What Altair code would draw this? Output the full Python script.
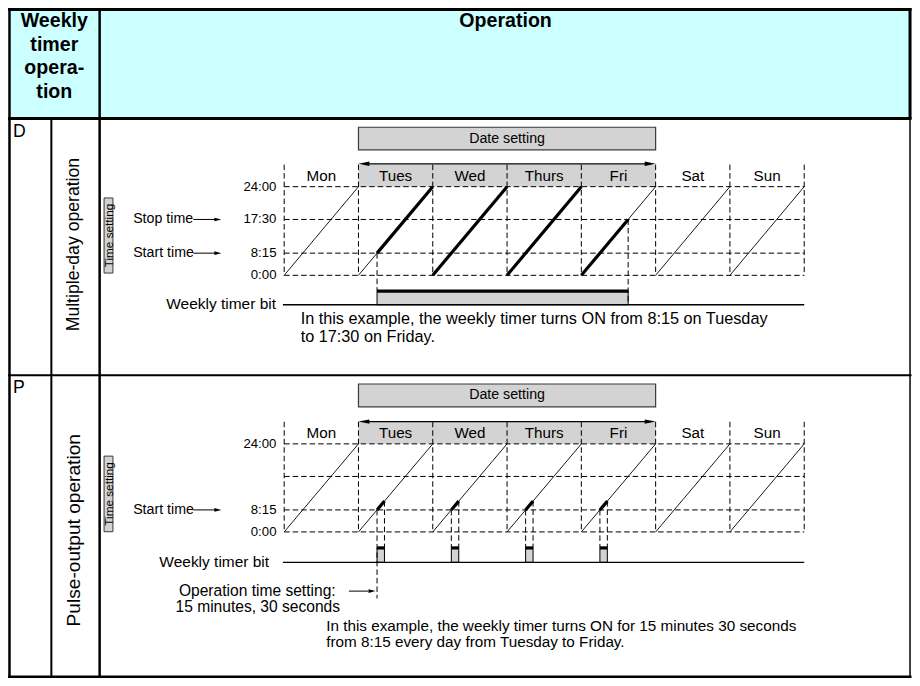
import altair as alt
import pandas as pd

# ---------------- data ----------------
DAYS = ["Mon", "Tues", "Wed", "Thurs", "Fri", "Sat", "Sun"]
DATE_SETTING = ["Tues", "Wed", "Thurs", "Fri"]
D_TIME_LABELS = ["24:00", "17:30", "8:15", "0:00"]
P_TIME_LABELS = ["24:00", "", "8:15", "0:00"]
TIME_POS = [1.0, 0.63, 0.25, 0.0]          # schematic height of each time level in a day
D_ON_START = ("Tues", "8:15")
D_ON_STOP = ("Fri", "17:30")
PULSE_DAYS = ["Tues", "Wed", "Thurs", "Fri"]
PULSE_START = "8:15"
PULSE_LEN = 0.1                              # schematic pulse width (15 min 30 s)
ROW_LETTERS = ["D", "P"]
ROW_NAMES = ["Multiple-day operation", "Pulse-output operation"]
HEADER_LEFT = ["Weekly", "timer", "opera-", "tion"]
HEADER_RIGHT = ["Operation"]
D_SETTING_LABELS = ["Stop time", "Start time"]
D_SETTING_TIMES = ["17:30", "8:15"]
P_SETTING_LABELS = ["Start time"]
P_SETTING_TIMES = ["8:15"]
D_NOTE = ["In this example, the weekly timer turns ON from 8:15 on Tuesday",
          "to 17:30 on Friday."]
P_NOTE = ["In this example, the weekly timer turns ON for 15 minutes 30 seconds",
          "from 8:15 every day from Tuesday to Friday."]
OP_TIME = ["Operation time setting:", "15 minutes, 30 seconds"]

# ---------------- layout (reference pixel space) ----------------
W, H = 904, 670
XMIN, XMAX = 3, 920.5
YMIN, YMAX = 2, 684.5
FS = 0.98
GRAY = "#d3d3d3"
CYAN = "#ccffff"
FONT = "Liberation Sans"

X0, DW = 283.3, 75.4
LEVEL = dict(zip(D_TIME_LABELS, TIME_POS))
DI = {d: i for i, d in enumerate(DAYS)}

PANELS = [
    dict(key="D", y24=184.0, y0=274.3, box=(123.5, 146.5), arrow=160.7, cell=161.5,
         daylab=172.8, hi=290.5, lo=304.3, labx=275.5, bitx=275.0, linex=282.0,
         note=(300, 318.6, 336.8, "noteD"), tsbox=(195.5, 272)),
    dict(key="P", y24=446.0, y0=535.7, box=(385.0, 408.3), arrow=423.3, cell=423.5,
         daylab=435.3, hi=552.0, lo=566.7, labx=275.5, bitx=268.0, linex=282.0,
         note=(326, 632.0, 648.2, "noteP"), tsbox=(458.5, 535.5)),
]

rects, rules, dashes, heads = [], [], [], []
texts = {}


def rect(x, x2, y, y2, fill, stroke="black", sw=0.0):
    rects.append(dict(x=x, x2=x2, y=y, y2=y2, fill=fill, stroke=stroke, sw=sw))


def line(x, y, x2, y2, sw=1.0, color="black"):
    rules.append(dict(x=x, y=y, x2=x2, y2=y2, sw=sw, color=color))


def dash(x, y, x2, y2):
    dashes.append(dict(x=x, y=y, x2=x2, y2=y2))


def head(tip_x, y, direction, length, half):
    path = ("M 1 0 L -1 -{h} L -1 {h} Z" if direction == "right"
            else "M -1 0 L 1 -{h} L 1 {h} Z").format(h=round(2 * half / length, 3))
    cx = tip_x - length / 2 if direction == "right" else tip_x + length / 2
    heads.append(dict(x=cx, y=y, shape=path, size=length * length))


def text(style, x, y, t):
    texts.setdefault(style, []).append(dict(x=x, y=y, t=t))


# header
rect(4, 919, 2, 114, CYAN)
for i, t in enumerate(HEADER_LEFT):
    text("hdr", 50, 15.5 + i * 24, t)
text("hdr", 508, 15.5, HEADER_RIGHT[0])

# table grid
line(3, 3.5, 920, 3.5, 3)
line(3, 114.5, 920, 114.5, 3)
line(3, 376, 920, 376, 2)
line(3, 683.3, 920, 683.3, 2.5)
line(4.5, 2, 4.5, 684.5, 2.5)
line(96, 2, 96, 684.5, 2.5)
line(47, 114, 47, 684.5, 2)
line(918.5, 2, 918.5, 115, 3)
line(918.5, 114, 918.5, 684.5, 1.5)

for letter, name, yc, yn, st in zip(ROW_LETTERS, ROW_NAMES, [128, 389], [243, 534], ["rotD", "rotP"]):
    text("letter", 8, yc, letter)
    text(st, 70, yn, name)


def dxy(p, day, f):
    """position on the diagonal of a day at schematic height f"""
    x = X0 + DI[day] * DW + f * DW
    y = p["y0"] - f * (p["y0"] - p["y24"])
    return x, y


for p, tl, slabels, stimes in zip(PANELS, [D_TIME_LABELS, P_TIME_LABELS],
                                  [D_SETTING_LABELS, P_SETTING_LABELS],
                                  [D_SETTING_TIMES, P_SETTING_TIMES]):
    xa = X0 + DI[DATE_SETTING[0]] * DW
    xb = X0 + (DI[DATE_SETTING[-1]] + 1) * DW
    xe = X0 + len(DAYS) * DW
    # date setting box + arrow
    rect(xa, xb, p["box"][0], p["box"][1], GRAY, "#3a3a3a", 1.2)
    text("date", (xa + xb) / 2, (p["box"][0] + p["box"][1]) / 2, "Date setting")
    rect(xa, xb, p["cell"], p["y24"], GRAY)
    line(xa + 6, p["arrow"], xb - 6, p["arrow"], 1.3)
    head(xa, p["arrow"], "left", 11, 2.2)
    head(xb, p["arrow"], "right", 11, 2.2)
    # day labels and grid
    for i, d in enumerate(DAYS):
        text("day", X0 + (i + 0.5) * DW, p["daylab"], d)
    for i in range(len(DAYS) + 1):
        dash(X0 + i * DW, p["cell"], X0 + i * DW, p["y0"])
    for lab, f in zip(tl, TIME_POS):
        y = p["y0"] - f * (p["y0"] - p["y24"])
        dash(X0, y, xe, y)
        if lab:
            text("time", p["labx"], y, lab)
    for lab, tm in zip(slabels, stimes):
        y = p["y0"] - LEVEL[tm] * (p["y0"] - p["y24"])
        text("set", 130, y, lab)
        line(191, y, 214, y, 1)
        head(219.5, y, "right", 7, 1.8)
    # time setting box
    rect(100.5, 109.5, p["tsbox"][0], p["tsbox"][1], GRAY, "#3a3a3a", 1)
    text("rotsmall", 105.3, (p["tsbox"][0] + p["tsbox"][1]) / 2, "Time setting")
    # diagonals
    for d in DAYS:
        x1, y1 = dxy(p, d, 0)
        x2, y2 = dxy(p, d, 1)
        line(x1, y1, x2, y2, 0.9)
    # weekly timer bit
    text("bit", p["bitx"], p["lo"] - 0.5, "Weekly timer bit")
    line(p["linex"], p["lo"], xe, p["lo"], 1.3)

# --- D panel specifics
pD = PANELS[0]
iS, iE = DI[D_ON_START[0]], DI[D_ON_STOP[0]]
for i in range(iS, iE + 1):
    d = DAYS[i]
    f1 = LEVEL[D_ON_START[1]] if i == iS else 0.0
    f2 = LEVEL[D_ON_STOP[1]] if i == iE else 1.0
    x1, y1 = dxy(pD, d, f1)
    x2, y2 = dxy(pD, d, f2)
    line(x1, y1, x2, y2, 3.2)
xs, ys = dxy(pD, D_ON_START[0], LEVEL[D_ON_START[1]])
xt, yt = dxy(pD, D_ON_STOP[0], LEVEL[D_ON_STOP[1]])
rect(xs, xt, pD["hi"], pD["lo"], GRAY, "black", 1)
line(xs, pD["hi"], xt, pD["hi"], 3.2)
dash(xs, ys, xs, pD["hi"])
dash(xt, yt, xt, pD["lo"])
text(pD["note"][3], pD["note"][0], pD["note"][1], D_NOTE[0])
text(pD["note"][3], pD["note"][0], pD["note"][2], D_NOTE[1])

# --- P panel specifics
pP = PANELS[1]
f0 = LEVEL[PULSE_START]
for j, d in enumerate(PULSE_DAYS):
    x1, y1 = dxy(pP, d, f0)
    x2, y2 = dxy(pP, d, f0 + PULSE_LEN)
    line(x1, y1, x2, y2, 3.2)
    rect(x1, x2, pP["hi"], pP["lo"], GRAY, "black", 1)
    line(x1, pP["hi"], x2, pP["hi"], 3.2)
    dash(x1, y1, x1, 603.5 if j == 0 else pP["hi"])
    dash(x2, y2, x2, pP["hi"])
    if j == 0:
        line(349, 596, 369, 596, 1)
        head(376, 596, "right", 7, 1.8)
text("op", 256, 596, OP_TIME[0])
text("op", 256.5, 612.3, OP_TIME[1])
text(pP["note"][3], pP["note"][0], pP["note"][1], P_NOTE[0])
text(pP["note"][3], pP["note"][0], pP["note"][2], P_NOTE[1])

# ---------------- chart ----------------
X = lambda f="x": alt.X(f"{f}:Q", scale=alt.Scale(domain=[XMIN, XMAX], nice=False, zero=False), axis=None)
Y = lambda f="y": alt.Y(f"{f}:Q", scale=alt.Scale(domain=[YMIN, YMAX], nice=False, zero=False, reverse=True), axis=None)

rect_layer = alt.Chart(pd.DataFrame(rects)).mark_rect().encode(
    x=X(), x2="x2:Q", y=Y(), y2="y2:Q",
    fill=alt.Fill("fill:N", scale=None),
    stroke=alt.Stroke("stroke:N", scale=None),
    strokeWidth=alt.StrokeWidth("sw:Q", scale=None),
)
dash_layer = alt.Chart(pd.DataFrame(dashes)).mark_rule(
    color="black", strokeWidth=1, strokeDash=[5.5, 3]).encode(
    x=X(), x2="x2:Q", y=Y(), y2="y2:Q")
rule_layer = alt.Chart(pd.DataFrame(rules)).mark_rule(strokeCap="butt").encode(
    x=X(), x2="x2:Q", y=Y(), y2="y2:Q",
    color=alt.Color("color:N", scale=None),
    strokeWidth=alt.StrokeWidth("sw:Q", scale=None),
)
head_layer = alt.Chart(pd.DataFrame(heads)).mark_point(
    filled=True, color="black", opacity=1, strokeWidth=0).encode(
    x=X(), y=Y(),
    shape=alt.Shape("shape:N", scale=None),
    size=alt.Size("size:Q", scale=None),
)

STYLES = {
    "hdr": dict(fontSize=20, fontWeight="bold", align="center", angle=0),
    "letter": dict(fontSize=18, fontWeight="normal", align="left", angle=0),
    "rotD": dict(fontSize=18, fontWeight="normal", align="center", angle=270),
    "rotP": dict(fontSize=19.5, fontWeight="normal", align="center", angle=270),
    "rotsmall": dict(fontSize=12, fontWeight="normal", align="center", angle=270),
    "date": dict(fontSize=14.5, fontWeight="normal", align="center", angle=0),
    "day": dict(fontSize=15.5, fontWeight="normal", align="center", angle=0),
    "time": dict(fontSize=13.5, fontWeight="normal", align="right", angle=0),
    "set": dict(fontSize=14.5, fontWeight="normal", align="left", angle=0),
    "bit": dict(fontSize=15.8, fontWeight="normal", align="right", angle=0),
    "op": dict(fontSize=15.9, fontWeight="normal", align="center", angle=0),
    "noteD": dict(fontSize=16.6, fontWeight="normal", align="left", angle=0),
    "noteP": dict(fontSize=15.6, fontWeight="normal", align="left", angle=0),
}
text_layers = []
for style, rows in texts.items():
    s = STYLES[style]
    kw = dict(font=FONT, fontSize=s["fontSize"] * FS, fontWeight=s["fontWeight"],
              align=s["align"], baseline="middle", color="black")
    if s["angle"]:
        kw["angle"] = s["angle"]
    text_layers.append(alt.Chart(pd.DataFrame(rows)).mark_text(**kw).encode(
        x=X(), y=Y(), text="t:N"))

chart = alt.layer(rect_layer, dash_layer, rule_layer, head_layer, *text_layers).properties(
    width=W, height=H, padding=0, autosize=alt.AutoSizeParams(type="none"),
    background="white",
).configure_view(stroke=None)

chart.save("out.html", embed_options={"renderer": "svg", "actions": False})
